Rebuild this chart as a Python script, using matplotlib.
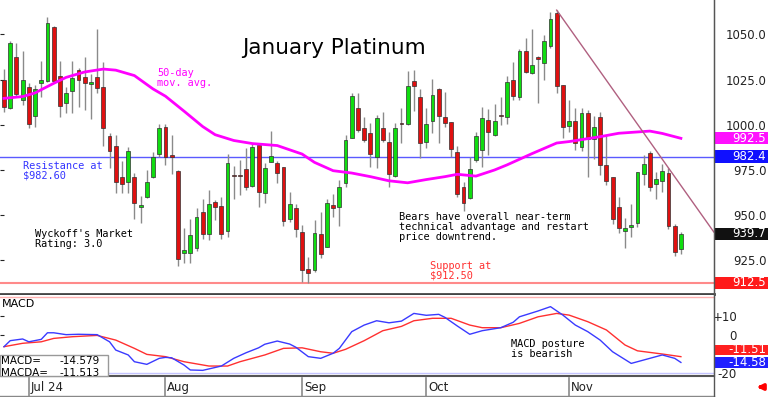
import numpy as np
import matplotlib.pyplot as plt
import matplotlib.transforms as mtransforms
from matplotlib.patches import Rectangle
from matplotlib.lines import Line2D

# Daily OHLC for January platinum
opens = [1024.7, 1009.2, 1037.4, 1013.7, 1020.8, 1004.8, 1023.1, 1024.2, 1054.0, 1026.9,
         1012.0, 1018.6, 1030.2, 1026.4, 1022.5, 1026.4, 1020.8, 993.8, 988.2, 971.1,
         968.3, 971.1, 954.5, 960.0, 971.1, 983.8, 998.7, 983.2, 974.4, 929.0,
         929.0, 931.8, 951.7, 939.5, 957.2, 955.0, 941.2, 972.2, 972.2, 975.5,
         966.1, 988.8, 962.2, 979.4, 978.8, 976.6, 947.8, 953.9, 940.6, 920.2,
         919.6, 939.5, 932.4, 955.6, 954.5, 967.8, 992.6, 1009.2, 998.2, 995.4,
         982.1, 998.2, 990.4, 971.6, 1000.9, 1000.4, 1024.2, 1015.3, 990.4, 1002.0,
         1019.8, 1004.3, 1001.5, 984.9, 965.5, 959.4, 980.5, 986.0, 1002.6, 994.3,
         1005.4, 1004.3, 1024.7, 1015.3, 1040.8, 1028.6, 1037.4, 1034.1, 1043.5, 1061.8,
         1021.9, 999.3, 1002.0, 987.7, 1006.5, 992.1, 1004.3, 977.7, 971.1, 954.5,
         941.2, 943.4, 945.6, 972.7, 984.3, 967.2, 968.9, 973.3, 944.0, 931.2]
highs = [1030.8, 1046.3, 1045.2, 1040.8, 1023.1, 1021.9, 1035.2, 1059.6, 1054.6, 1035.2,
         1020.8, 1035.2, 1031.4, 1037.4, 1028.0, 1052.9, 1034.7, 995.4, 994.3, 979.9,
         987.7, 973.3, 960.6, 974.9, 984.9, 1000.4, 1000.4, 994.3, 974.9, 942.9,
         947.8, 953.9, 958.9, 963.9, 958.3, 960.0, 983.8, 977.2, 980.5, 987.1,
         989.9, 989.9, 978.8, 996.5, 979.9, 976.6, 962.8, 956.1, 944.5, 926.8,
         947.3, 951.7, 958.9, 961.7, 969.4, 994.3, 1017.5, 1017.5, 1004.3, 1000.9,
         1005.4, 1007.0, 995.9, 1000.9, 1009.2, 1029.7, 1030.2, 1019.8, 1009.2, 1025.3,
         1020.3, 1018.1, 1001.5, 988.2, 968.3, 982.1, 996.0, 1009.8, 1008.7, 1011.4,
         1015.3, 1026.9, 1034.7, 1041.9, 1048.0, 1052.9, 1038.0, 1049.6, 1062.3, 1063.4,
         1021.9, 1013.7, 1009.2, 1009.2, 1008.1, 1004.8, 1007.0, 994.3, 971.1, 960.0,
         948.4, 956.1, 973.8, 983.2, 985.5, 973.8, 978.3, 976.0, 945.1, 940.6]
lows = [1007.0, 1008.7, 1015.3, 1010.9, 998.2, 998.7, 1015.3, 1023.6, 1023.1, 1004.3,
        1006.5, 1006.5, 1009.8, 1008.1, 1003.2, 1017.5, 988.2, 976.1, 962.2, 962.2,
        962.2, 947.8, 945.6, 959.4, 970.5, 982.1, 977.7, 972.7, 921.8, 923.5,
        923.5, 930.1, 936.8, 936.2, 947.3, 936.8, 937.9, 958.9, 961.1, 963.9,
        965.5, 954.5, 956.7, 979.4, 967.8, 944.0, 946.2, 937.9, 913.0, 912.5,
        918.5, 926.3, 932.4, 949.0, 944.0, 965.5, 992.6, 995.9, 990.4, 976.6,
        976.0, 990.4, 965.5, 971.1, 989.9, 999.8, 1007.6, 981.6, 987.1, 995.4,
        989.9, 998.7, 982.1, 960.0, 952.3, 958.9, 979.4, 976.6, 983.2, 993.8,
        999.8, 1000.4, 1013.7, 1013.7, 1028.6, 1028.0, 1012.0, 1024.7, 1042.4, 1017.5,
        992.6, 995.9, 986.0, 985.5, 971.1, 981.0, 972.2, 966.6, 945.1, 940.1,
        931.8, 937.9, 943.4, 966.6, 963.3, 958.9, 962.8, 942.3, 927.4, 928.5]
closes = [1009.8, 1045.2, 1017.0, 1024.7, 1000.4, 1019.8, 1024.7, 1056.2, 1024.2, 1010.3,
          1017.5, 1025.8, 1024.7, 1023.1, 1023.6, 1020.3, 998.2, 985.5, 968.3, 967.2,
          985.5, 956.7, 955.6, 968.3, 982.1, 998.2, 982.1, 982.1, 925.7, 930.7,
          939.0, 948.9, 939.5, 956.1, 954.5, 939.5, 978.8, 971.9, 971.9, 965.5,
          987.7, 962.8, 976.0, 982.7, 973.3, 946.7, 956.1, 942.3, 919.6, 918.0,
          940.1, 928.5, 956.7, 953.9, 965.5, 991.5, 1015.9, 997.1, 991.5, 983.8,
          1003.7, 991.5, 972.7, 998.2, 1000.6, 1021.4, 1021.4, 989.9, 1000.4, 1016.4,
          1004.8, 1000.9, 986.6, 961.7, 956.7, 975.5, 993.8, 1003.7, 996.0, 1002.0,
          1005.1, 1023.6, 1015.9, 1040.8, 1029.1, 1033.0, 1036.3, 1046.3, 1058.5, 1021.4,
          998.7, 1002.0, 989.9, 1006.5, 992.1, 998.7, 977.7, 968.9, 947.8, 942.9,
          942.9, 944.5, 973.8, 978.3, 965.5, 970.0, 974.4, 944.0, 929.6, 939.7]

# 50-day moving average (bar index, price)
ma_idx = [0, 3, 5, 6, 8, 10, 13, 16, 18, 21, 24, 26, 29, 32, 34, 37, 40, 44, 48, 50,
          53, 56, 59, 62, 65, 68, 71, 73, 76, 79, 81, 85, 89, 91, 96, 99, 104, 106, 109]
ma_val = [1014.6, 1015.6, 1017.6, 1019.4, 1022.9, 1026.2, 1029.2, 1030.8, 1030.2, 1027.2,
          1019.8, 1015.8, 1007.5, 999.0, 994.5, 991.3, 989.6, 988.5, 983.8, 979.2,
          974.6, 973.3, 971.3, 969.0, 967.9, 969.7, 971.3, 972.6, 971.6, 975.0,
          977.8, 984.0, 989.9, 990.7, 993.4, 995.3, 996.5, 995.2, 992.5]

# MACD line and its average
macd_idx = [0, 1, 3, 4, 6, 7, 8, 10, 12, 15, 17, 18, 20, 21, 23, 25, 26, 27, 29, 30,
            32, 35, 37, 39, 41, 42, 44, 46, 47, 49, 51, 53, 54, 56, 58, 60, 62, 64, 66, 68,
            70, 71, 73, 75, 77, 80, 82, 83, 86, 88, 90, 92, 94, 96, 98, 101, 104, 106, 108, 109]
macd_val = [-6.2, -3.0, -2.1, -3.6, -2.3, 1.2, 1.2, 0.2, 0.4, 0.2, -3.6, -8.0, -10.6, -14.2, -15.6,
            -12.4, -11.9, -12.1, -16.0, -18.6, -18.8, -16.5, -12.4, -9.4, -6.8, -4.9, -3.2, -4.8,
            -6.5, -11.5, -12.4, -9.7, -7.1, 1.8, 5.3, 7.6, 6.5, 7.4, 11.5, 10.5, 11.0, 9.4, 4.8,
            0.4, 2.3, 3.9, 6.8, 9.7, 12.8, 15.1, 10.6, 5.3, 1.8, -2.7, -8.9, -15.1, -12.4, -10.6,
            -12.4, -14.58]
sig_idx = [0, 3, 6, 8, 11, 15, 18, 21, 23, 26, 29, 33, 36, 38, 42, 45, 48, 51, 53, 55,
           58, 61, 64, 66, 69, 72, 75, 77, 80, 83, 86, 89, 91, 94, 97, 100, 102, 106, 109]
sig_val = [-6.2, -4.4, -3.6, -1.8, -0.9, -0.2, -2.7, -7.1, -10.3, -11.5, -14.2, -16.5, -16.5,
           -14.2, -10.6, -7.1, -6.8, -8.9, -9.7, -7.6, -3.0, 2.3, 4.6, 7.6, 8.9, 8.9, 5.3, 3.9,
           3.9, 6.2, 9.7, 11.5, 10.6, 7.1, 2.7, -5.3, -8.4, -10.1, -11.51]

date_idx = [4, 26, 48, 68, 91]
date_labels = ['Jul 24', 'Aug', 'Sep', 'Oct', 'Nov']
price_ticks = [925, 950, 975, 1000, 1025, 1050]
macd_ticks = [10, 0, -20]
macd_tick_labels = ['+10', '0', '-20']

resistance = 982.4
support = 912.5
ma_last = 992.5
trend_start = (89, 1063.4)
trend_end = (114.3, 940.7)

W, H = 768, 397
PX = 714  # right edge of plotting area in pixels

fig = plt.figure(figsize=(W / 100, H / 100), dpi=100)
ax = fig.add_axes([0, 1 - 294 / H, PX / W, 294 / H])
axm = fig.add_axes([0, 21 / H, PX / W, 81 / H])

mono = 'DejaVu Sans Mono'
n = len(opens)
x = np.arange(n)
o = np.array(opens)
c = np.array(closes)

# candles
ax.vlines(x, lows, highs, color='#8a8a8a', lw=1, zorder=2)
up = c >= o
body_col = np.where(up, '#10dd10', '#e01010')
body_h = np.maximum(np.abs(c - o), 0.5)
ax.bar(x, body_h, bottom=np.minimum(o, c), width=0.62, color=body_col,
       edgecolor='#303030', linewidth=0.5, zorder=3)

ax.plot(ma_idx, ma_val, color='#ff00ff', lw=2, zorder=4)
ax.axhline(resistance, color='#5a5aff', lw=1, zorder=1)
ax.axhline(support, color='#ff8a8a', lw=1.5, zorder=1)
ax.plot([trend_start[0], trend_end[0]], [trend_start[1], trend_end[1]],
        color='#b06080', lw=1, zorder=4)

ax.set_xlim(-0.644, 114.33)
ax.set_ylim(906.4, 1069.0)
ax.set_xticks([])
ax.set_yticks(price_ticks)
ax.set_yticklabels([f'{v:.1f}' for v in price_ticks])
ax.tick_params(axis='y', left=True, right=False, labelleft=False, labelright=True,
               length=3, direction='in', pad=38, labelsize=8.5, colors='#222222')
for lab in ax.get_yticklabels():
    lab.set_horizontalalignment('right')
for s in ['top', 'left']:
    ax.spines[s].set_visible(False)
ax.spines['right'].set_color('#555555')
ax.spines['bottom'].set_color('#444444')
ax.spines['bottom'].set_linewidth(2)


def ax_pos(px, py, top, height):
    return px / PX, (top + height - py) / height


def tag(a, y, text, color, h):
    tr = mtransforms.blended_transform_factory(a.transAxes, a.transData)
    a.add_patch(Rectangle((1.0, y - h / 2), W / PX - 1.0, h, transform=tr,
                          facecolor=color, edgecolor='none', clip_on=False, zorder=6))
    a.text(766 / PX, y, text, transform=tr, ha='right', va='center', color='white',
           fontsize=8.5, clip_on=False, zorder=7)


tag(ax, ma_last, f'{ma_last:.1f}', '#ff10ff', 6.8)
tag(ax, resistance, f'{resistance:.1f}', '#1010ff', 6.8)
tag(ax, closes[-1], f'{closes[-1]:.1f}', '#111111', 6.8)
tag(ax, support, f'{support:.1f}', '#ff1a1a', 6.8)

# annotations in the price panel
ax.text(*ax_pos(334, 48, 0, 294), 'January Platinum', transform=ax.transAxes,
        ha='center', va='center', fontsize=15.5, color='black')
ax.text(*ax_pos(157, 78, 0, 294), '50-day\nmov. avg.', transform=ax.transAxes,
        ha='left', va='center', family=mono, fontsize=7.4, color='#ff00ff', linespacing=1.0)
ax.text(*ax_pos(23, 171, 0, 294), 'Resistance at\n$982.60', transform=ax.transAxes,
        ha='left', va='center', family=mono, fontsize=7.4, color='#3434ff', linespacing=1.0)
ax.text(*ax_pos(35, 239, 0, 294), "Wyckoff's Market\nRating: 3.0", transform=ax.transAxes,
        ha='left', va='center', family=mono, fontsize=7.4, color='black', linespacing=1.0)
ax.text(*ax_pos(399, 227.5, 0, 294),
        'Bears have overall near-term\ntechnical advantage and restart\nprice downtrend.',
        transform=ax.transAxes, ha='left', va='center', family=mono, fontsize=7.4,
        color='black', linespacing=1.0)
ax.text(*ax_pos(430, 271, 0, 294), 'Support at\n$912.50', transform=ax.transAxes,
        ha='left', va='center', family=mono, fontsize=7.4, color='#ff3030', linespacing=1.0)

# MACD panel
axm.plot(sig_idx, sig_val, color='#ff3030', lw=1, zorder=3)
axm.plot(macd_idx, macd_val, color='#3a3aff', lw=1, zorder=3)
axm.axhline(20, color='#ffb0b0', lw=1, zorder=1)
axm.axhline(-20, color='#c4c4ff', lw=1, zorder=1)
axm.set_xlim(-0.644, 114.33)
axm.set_ylim(-21.8, 21.3)
axm.set_xticks([])
axm.set_yticks(macd_ticks)
axm.set_yticklabels(macd_tick_labels)
axm.tick_params(axis='y', left=True, right=False, labelleft=False, labelright=True,
                length=3, direction='in', pad=16.6, labelsize=8.5, colors='#222222')
for lab in axm.get_yticklabels():
    lab.set_horizontalalignment('right')
axm.spines['top'].set_visible(False)
axm.spines['left'].set_visible(False)
axm.spines['right'].set_color('#555555')
axm.spines['bottom'].set_color('#555555')
axm.spines['bottom'].set_linewidth(1.5)

# the two value tags sit stacked, the signal tag nudged up to clear the MACD tag
tag(axm, sig_val[-1] + 3.6, f'{sig_val[-1]:.2f}', '#ff2020', 5.6)
tag(axm, macd_val[-1], f'{macd_val[-1]:.2f}', '#2020ff', 5.6)

axm.text(*ax_pos(2, 304, 295, 81), 'MACD', transform=axm.transAxes, ha='left',
         va='center', fontsize=8, color='black')
axm.text(*ax_pos(511, 349.3, 295, 81), 'MACD posture\nis bearish', transform=axm.transAxes,
         ha='left', va='center', family=mono, fontsize=7.4, color='black', linespacing=1.0)

axm.add_patch(Rectangle((0, 0), 108 / PX, 21 / 81, transform=axm.transAxes,
                        facecolor='white', edgecolor='#999999', lw=1, zorder=5, clip_on=False))
box_rows = [('MACD=', '-14.579', 0.185), ('MACDA=', '-11.513', 0.04)]
for name, full, yy in box_rows:
    axm.text(1 / PX, yy, name, transform=axm.transAxes, ha='left', va='center',
             fontsize=7.5, zorder=6)
    axm.text(100 / PX, yy, full, transform=axm.transAxes, ha='right', va='center',
             fontsize=7.5, zorder=6)

# date axis under the MACD panel
trd = mtransforms.blended_transform_factory(axm.transData, axm.transAxes)
for i, lab in zip(date_idx, date_labels):
    axm.plot([i, i], [-0.025, -0.247], transform=trd, color='#8a8a8a', lw=1.2, clip_on=False)
    axm.text(i + 0.3, -0.144, lab, transform=trd, ha='left', va='center', fontsize=8.5,
             color='#222222', clip_on=False)

fig.add_artist(Line2D([0, PX / W], [1.5 / H, 1.5 / H], color='#888888', lw=1))
fig.add_artist(Line2D([PX / W, PX / W], [0, 1], color='#555555', lw=1))
axm.annotate('', xy=(754, 10), xytext=(766, 10), xycoords='figure pixels',
             textcoords='figure pixels',
             arrowprops=dict(arrowstyle='-|>', color='red', lw=2.5, mutation_scale=8))

fig.savefig('out.png', dpi=100)
